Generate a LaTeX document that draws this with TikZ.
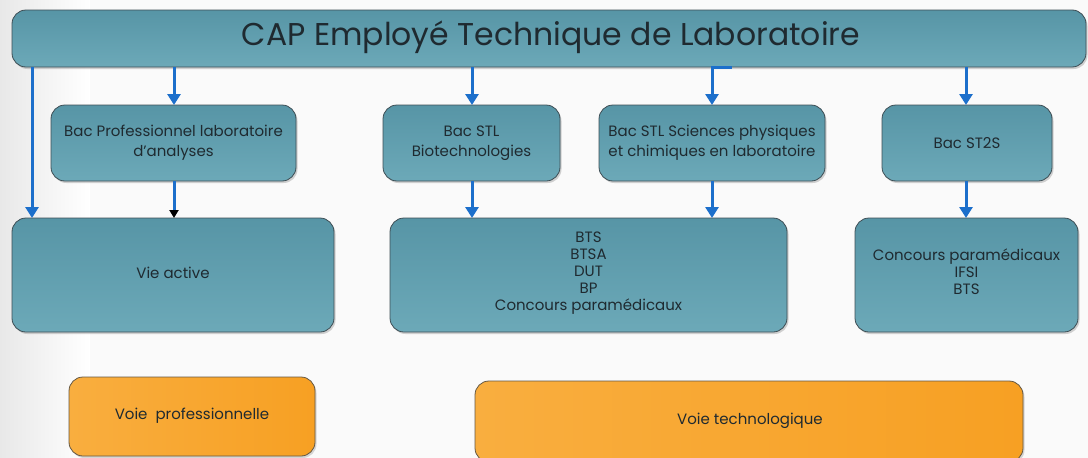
\documentclass[tikz,border=0pt]{standalone}
\usepackage{fontspec}
\setmainfont{Poppins}
\usetikzlibrary{shadows,arrows.meta,calc}
\definecolor{tealA}{HTML}{5795A6}
\definecolor{tealB}{HTML}{6CA9B8}
\definecolor{orA}{HTML}{F9AE3F}
\definecolor{orB}{HTML}{F7A023}
\definecolor{arrowblue}{HTML}{1C6FCB}
\definecolor{edge}{HTML}{3E4E55}
\definecolor{txt}{HTML}{1F2A30}
\tikzset{
  tealbox/.style={draw=edge, line width=0.8pt, rounded corners=14pt, top color=tealA, bottom color=tealB,
    drop shadow={opacity=0.35, shadow xshift=1.5pt, shadow yshift=-2pt}},
  orbox/.style={draw=edge!80!orange, line width=0.8pt, rounded corners=14pt, left color=orA, right color=orB,
    drop shadow={opacity=0.3, shadow xshift=1.5pt, shadow yshift=-2pt}},
  lbl/.style={text=txt, align=center, font=\fontsize{15}{20}\selectfont},
  conn/.style={draw=arrowblue, line width=3pt, -{Triangle[length=11pt,width=13pt]}},
}
\begin{document}
\begin{tikzpicture}[x=1pt,y=-1pt]
\shade[left color=gray!18, right color=white] (0,0) rectangle (90,458);
\fill[white!96!gray] (90,0) rectangle (1088,458);
\useasboundingbox (0,0) rectangle (1088,458);
% top
\path[tealbox] (12,10) rectangle (1086,67);
\node[text=txt, font=\fontsize{31.5}{36}\selectfont] (top) at (551,37) {CAP Employé Technique de Laboratoire};
% row 1
\path[tealbox] (51,105) rectangle (296,181);
\node[lbl] (bacpro) at (173.5,143) {Bac Professionnel laboratoire\\d’analyses};
\path[tealbox] (383,105) rectangle (560,181);
\node[lbl] (stlbio) at (471.5,143) {Bac STL\\Biotechnologies};
\path[tealbox] (599,105) rectangle (825,181);
\node[lbl] (stlsp) at (712,143) {Bac STL Sciences physiques\\et chimiques en laboratoire};
\path[tealbox] (882,105) rectangle (1052,181);
\node[lbl] (st2s) at (967,143) {Bac ST2S};
% row 2
\path[tealbox] (12,218) rectangle (334,332);
\node[lbl] (vie) at (173,273) {Vie active};
\path[tealbox] (390,218) rectangle (787,332);
\node[lbl, font=\fontsize{15}{17}\selectfont] (bts) at (588.5,273) {BTS\\BTSA\\DUT\\BP\\Concours paramédicaux};
\path[tealbox] (855,218) rectangle (1078,332);
\node[lbl, font=\fontsize{15}{17}\selectfont] (conc) at (966.5,272) {Concours paramédicaux\\IFSI\\BTS};
% orange
\path[orbox] (69,377) rectangle (315,456);
\node[lbl] (vp) at (192,416) {Voie\ \ professionnelle};
\path[orbox] (475,381) rectangle (1023,462);
\node[lbl] (vt) at (750,421) {Voie technologique};
% coordinates for connectors
\coordinate (topb1) at (32,67);
\coordinate (vie1) at (32,218);
\coordinate (topb2) at (174,67);
\coordinate (bp1) at (174,105);
\coordinate (bp2) at (174,181);
\coordinate (vie2) at (174,218);
\coordinate (topb3) at (472,67);
\coordinate (sb1) at (472,105);
\coordinate (sb2) at (472,181);
\coordinate (bt1) at (472,218);
\coordinate (topb4) at (732,67);
\coordinate (bend4) at (712,67);
\coordinate (ss1) at (712,105);
\coordinate (ss2) at (712,181);
\coordinate (bt2) at (712,218);
\coordinate (topb5) at (966,67);
\coordinate (s21) at (966,105);
\coordinate (s22) at (966,181);
\coordinate (co1) at (966,218);
\draw[conn] (topb1) -- (vie1);
\draw[conn] (topb2) -- (bp1);
\draw[draw=arrowblue, line width=3pt, -{Triangle[length=8pt,width=9pt,black]}] (bp2) -- (vie2);
\draw[conn] (topb3) -- (sb1);
\draw[conn] (sb2) -- (bt1);
\draw[conn] (topb4) -- (bend4) -- (ss1);
\draw[conn] (ss2) -- (bt2);
\draw[conn] (topb5) -- (s21);
\draw[conn] (s22) -- (co1);
\end{tikzpicture}
\end{document}
